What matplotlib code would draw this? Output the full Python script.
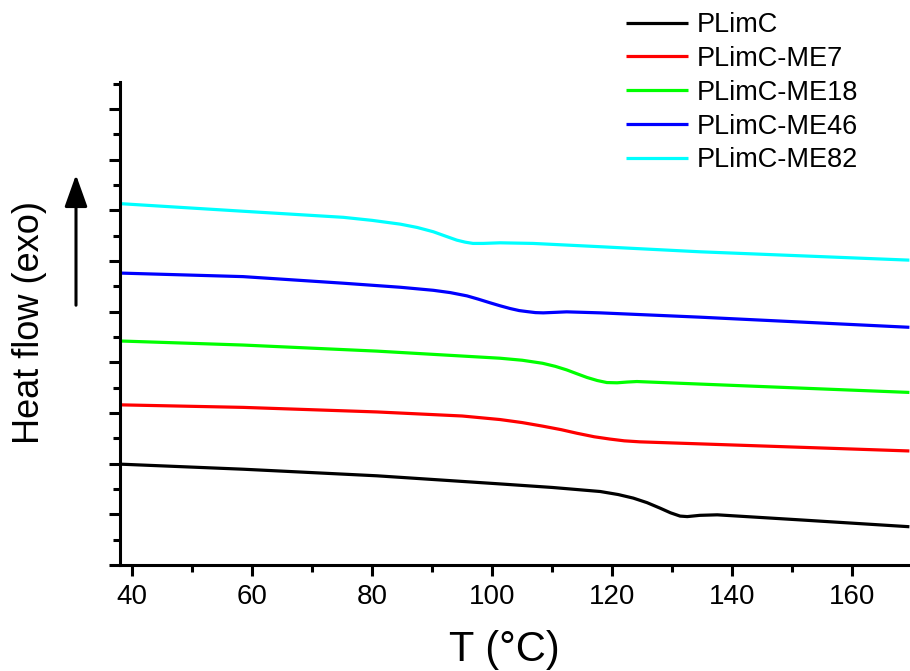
import numpy as np
import matplotlib.pyplot as plt
from matplotlib.patches import FancyArrowPatch
from matplotlib.ticker import MultipleLocator

plt.rcParams['font.family'] = ['Liberation Sans', 'DejaVu Sans']

# DSC heating traces, stacked with an offset (arbitrary heat-flow units)
t_plimc = [38.0, 58.5, 80.8, 101.3, 110.0, 118.0, 121.0, 123.5, 125.8, 128.0,
           129.7, 131.3, 132.5, 134.6, 137.5, 151.3, 169.5]
hf_plimc = [1.99, 1.89, 1.76, 1.60, 1.53, 1.45, 1.39, 1.32, 1.23, 1.12,
            1.03, 0.965, 0.955, 0.98, 0.99, 0.89, 0.755]

t_me7 = [38.0, 58.5, 80.8, 95.0, 101.3, 105.0, 108.4, 111.5, 114.1, 117.0,
         119.6, 122.0, 124.6, 134.6, 169.5]
hf_me7 = [3.16, 3.11, 3.02, 2.94, 2.87, 2.81, 2.74, 2.67, 2.60, 2.53,
          2.485, 2.45, 2.43, 2.39, 2.25]

t_me18 = [38.0, 58.5, 80.8, 101.3, 105.0, 108.4, 110.5, 112.4, 114.2, 115.8,
          117.5, 119.1, 120.8, 122.5, 124.1, 134.6, 156.8, 169.5]
hf_me18 = [4.42, 4.34, 4.22, 4.08, 4.04, 3.98, 3.92, 3.85, 3.77, 3.70,
           3.64, 3.60, 3.595, 3.61, 3.62, 3.57, 3.465, 3.405]

t_me46 = [38.0, 58.5, 75.2, 84.7, 90.2, 93.0, 95.8, 97.7, 99.6, 101.3, 103.0,
          104.5, 105.8, 107.2, 108.5, 110.5, 112.4, 118.0, 134.6, 169.5]
hf_me46 = [5.76, 5.69, 5.56, 5.48, 5.42, 5.375, 5.31, 5.245, 5.175, 5.115, 5.06,
           5.02, 5.00, 4.98, 4.975, 4.985, 4.995, 4.975, 4.89, 4.69]

t_me82 = [38.0, 58.5, 75.2, 80.0, 84.7, 87.5, 90.2, 92.2, 94.1, 95.5, 96.8,
          98.5, 101.3, 106.8, 118.0, 134.6, 169.5]
hf_me82 = [7.13, 6.98, 6.86, 6.80, 6.725, 6.66, 6.575, 6.49, 6.41, 6.37, 6.345,
           6.345, 6.357, 6.345, 6.28, 6.18, 6.015]

labels = ['PLimC', 'PLimC-ME7', 'PLimC-ME18', 'PLimC-ME46', 'PLimC-ME82']
colors = ['black', 'red', '#00ff00', 'blue', 'cyan']

fig = plt.figure(figsize=(9.1, 6.71), dpi=100)
ax = fig.add_axes([120 / 910, 106 / 671, 790 / 910, 483 / 671])

series = [(t_plimc, hf_plimc), (t_me7, hf_me7), (t_me18, hf_me18),
          (t_me46, hf_me46), (t_me82, hf_me82)]
for (t, hf), lab, c in zip(series, labels, colors):
    ax.plot(t, hf, color=c, lw=2.3, label=lab, solid_capstyle='butt',
            solid_joinstyle='round')

ax.set_xlim(38, 169.6)
ax.set_ylim(0, 9.53)

ax.xaxis.set_major_locator(MultipleLocator(20))
ax.xaxis.set_minor_locator(MultipleLocator(10))
ax.yaxis.set_major_locator(MultipleLocator(1))
ax.yaxis.set_minor_locator(MultipleLocator(0.5))
ax.set_yticklabels([])
ax.tick_params(which='both', direction='out', width=2.2)
ax.tick_params(which='major', length=8)
ax.tick_params(which='minor', length=4.8)
ax.tick_params(axis='x', labelsize=20, pad=6)

for side in ['top', 'right']:
    ax.spines[side].set_visible(False)
for side in ['left', 'bottom']:
    ax.spines[side].set_linewidth(2.2)

ax.set_xlabel('T (°C)', fontsize=30, va='center')
ax.xaxis.set_label_coords(0.487, -0.176)
fig.text(30 / 910, 1 - 322 / 671, 'Heat flow (exo)', fontsize=26,
         rotation=90, ha='center', va='center')

# exotherm direction arrow
fig.patches.append(FancyArrowPatch(
    (76 / 910, 1 - 308 / 671), (76 / 910, 1 - 172 / 671),
    transform=fig.transFigure, arrowstyle='-|>,head_length=1.4,head_width=0.5',
    mutation_scale=14, lw=2.2, color='black'))

ax.legend(loc='upper left', bbox_to_anchor=(626 / 910, 1 - 12 / 671),
          bbox_transform=fig.transFigure, frameon=False, fontsize=19.5,
          handlelength=2.3, handletextpad=0.3, labelspacing=0.29,
          borderpad=0, borderaxespad=0)

fig.savefig('out.png', dpi=100)
